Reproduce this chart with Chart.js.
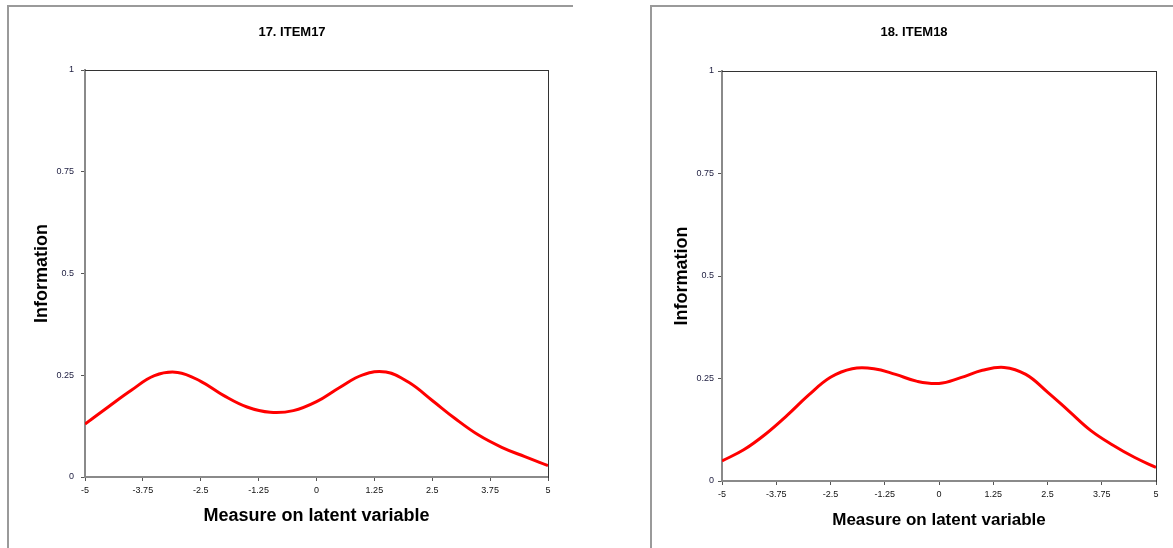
<!DOCTYPE html>
<html>
<head>
<meta charset="utf-8">
<script src="https://cdn.jsdelivr.net/npm/chart.js@4/dist/chart.umd.min.js"></script>
<style>
  body { margin: 0; background: #fff; width: 1173px; height: 548px; overflow: hidden; position: relative; }
  canvas { position: absolute; top: 0; }
  .frame { position: absolute; top: 5px; height: 560px; border-top: 2px solid #9a9a9a; border-left: 2px solid #9a9a9a; pointer-events: none; }
</style>
</head>
<body>
<canvas id="item17" width="584" height="548" style="left:0"></canvas>
<canvas id="item18" width="518" height="548" style="left:655px"></canvas>
<div class="frame" style="left:7px; width:564px"></div>
<div class="frame" style="left:650px; width:540px"></div>

<script>
// latent trait (theta) grid and item information values
const thetaValues = [-5, -4.5, -4, -3.5, -3, -2.5, -2, -1.5, -1, -0.5, 0, 0.5, 1, 1.5, 2, 2.5, 3, 3.5, 4, 4.5, 5];
const item17Info = [0.130, 0.172, 0.213, 0.249, 0.257, 0.235, 0.200, 0.172, 0.159, 0.163, 0.185, 0.220, 0.251, 0.258, 0.232, 0.188, 0.143, 0.103, 0.073, 0.050, 0.028];
const item18Info = [0.049, 0.076, 0.114, 0.160, 0.210, 0.253, 0.274, 0.274, 0.260, 0.243, 0.238, 0.252, 0.270, 0.277, 0.260, 0.217, 0.170, 0.123, 0.088, 0.058, 0.033];

const xTickValues = [-5, -3.75, -2.5, -1.25, 0, 1.25, 2.5, 3.75, 5];
const yTickValues = [0, 0.25, 0.5, 0.75, 1];

const FONT = '"Liberation Sans", Arial, sans-serif';

function makeChart(id, title, values, box) {
  const points = thetaValues.map((t, i) => ({ x: t, y: values[i] }));
  return new Chart(document.getElementById(id), {
    type: 'line',
    data: {
      datasets: [{
        data: points,
        borderColor: '#ff0000',
        borderWidth: 3,
        pointRadius: 0,
        tension: 0.4,
        fill: false
      }]
    },
    options: {
      responsive: false,
      animation: false,
      layout: { padding: 0 },
      plugins: {
        legend: { display: false },
        tooltip: { enabled: false },
        title: {
          display: true,
          text: title,
          color: '#000',
          font: { family: FONT, size: 13, weight: 'bold' },
          padding: { top: 25, bottom: box.titleGap }
        }
      },
      scales: {
        x: {
          type: 'linear',
          position: 'bottom',
          min: -5,
          max: 5,
          afterBuildTicks: s => { s.ticks = xTickValues.map(v => ({ value: v })); },
          afterFit: s => { s.height = box.xHeight; },
          ticks: {
            autoSkip: false,
            maxRotation: 0,
            padding: 4,
            color: '#111',
            font: { family: FONT, size: 9 },
            callback: v => String(v)
          },
          grid: { drawOnChartArea: false, drawTicks: true, tickLength: 4, color: '#555' },
          border: { color: '#8a8a8a', width: 2 },
          title: {
            display: true,
            text: 'Measure on latent variable',
            color: '#000',
            font: { family: FONT, size: box.axisFont, weight: 'bold' },
            padding: { top: 0, bottom: box.xTitlePad }
          }
        },
        y: {
          type: 'linear',
          position: 'left',
          min: 0,
          max: 1,
          afterBuildTicks: s => { s.ticks = yTickValues.map(v => ({ value: v })); },
          afterFit: s => { s.width = box.yWidth; },
          ticks: {
            padding: box.yTickPad,
            color: '#222244',
            font: { family: FONT, size: 9 },
            callback: v => String(v)
          },
          grid: { drawOnChartArea: false, drawTicks: true, tickLength: 4, color: '#555' },
          border: { color: '#8a8a8a', width: 2 },
          title: {
            display: true,
            text: 'Information',
            color: '#000',
            font: { family: FONT, size: 18, weight: 'bold' },
            padding: { top: box.yTitlePad, bottom: 0 }
          }
        },
        // plain frame lines on the top and right of the plot area
        xTop: {
          type: 'linear',
          position: 'top',
          ticks: { display: false },
          grid: { display: false },
          border: { color: '#333', width: 1 },
          afterFit: s => { s.height = 0; }
        },
        yRight: {
          type: 'linear',
          position: 'right',
          ticks: { display: false },
          grid: { display: false },
          border: { color: '#333', width: 1 },
          afterFit: s => { s.width = box.rightWidth; }
        }
      }
    }
  });
}

makeChart('item17', '17. ITEM17', item17Info, {
  titleGap: 29.4, xHeight: 71, xTitlePad: 21, axisFont: 18,
  yWidth: 85, yTickPad: 7, yTitlePad: 31, rightWidth: 36
});

makeChart('item18', '18. ITEM18', item18Info, {
  titleGap: 30.4, xHeight: 67, xTitlePad: 17, axisFont: 17,
  yWidth: 67, yTickPad: 4, yTitlePad: 16, rightWidth: 17
});
</script>
</body>
</html>
